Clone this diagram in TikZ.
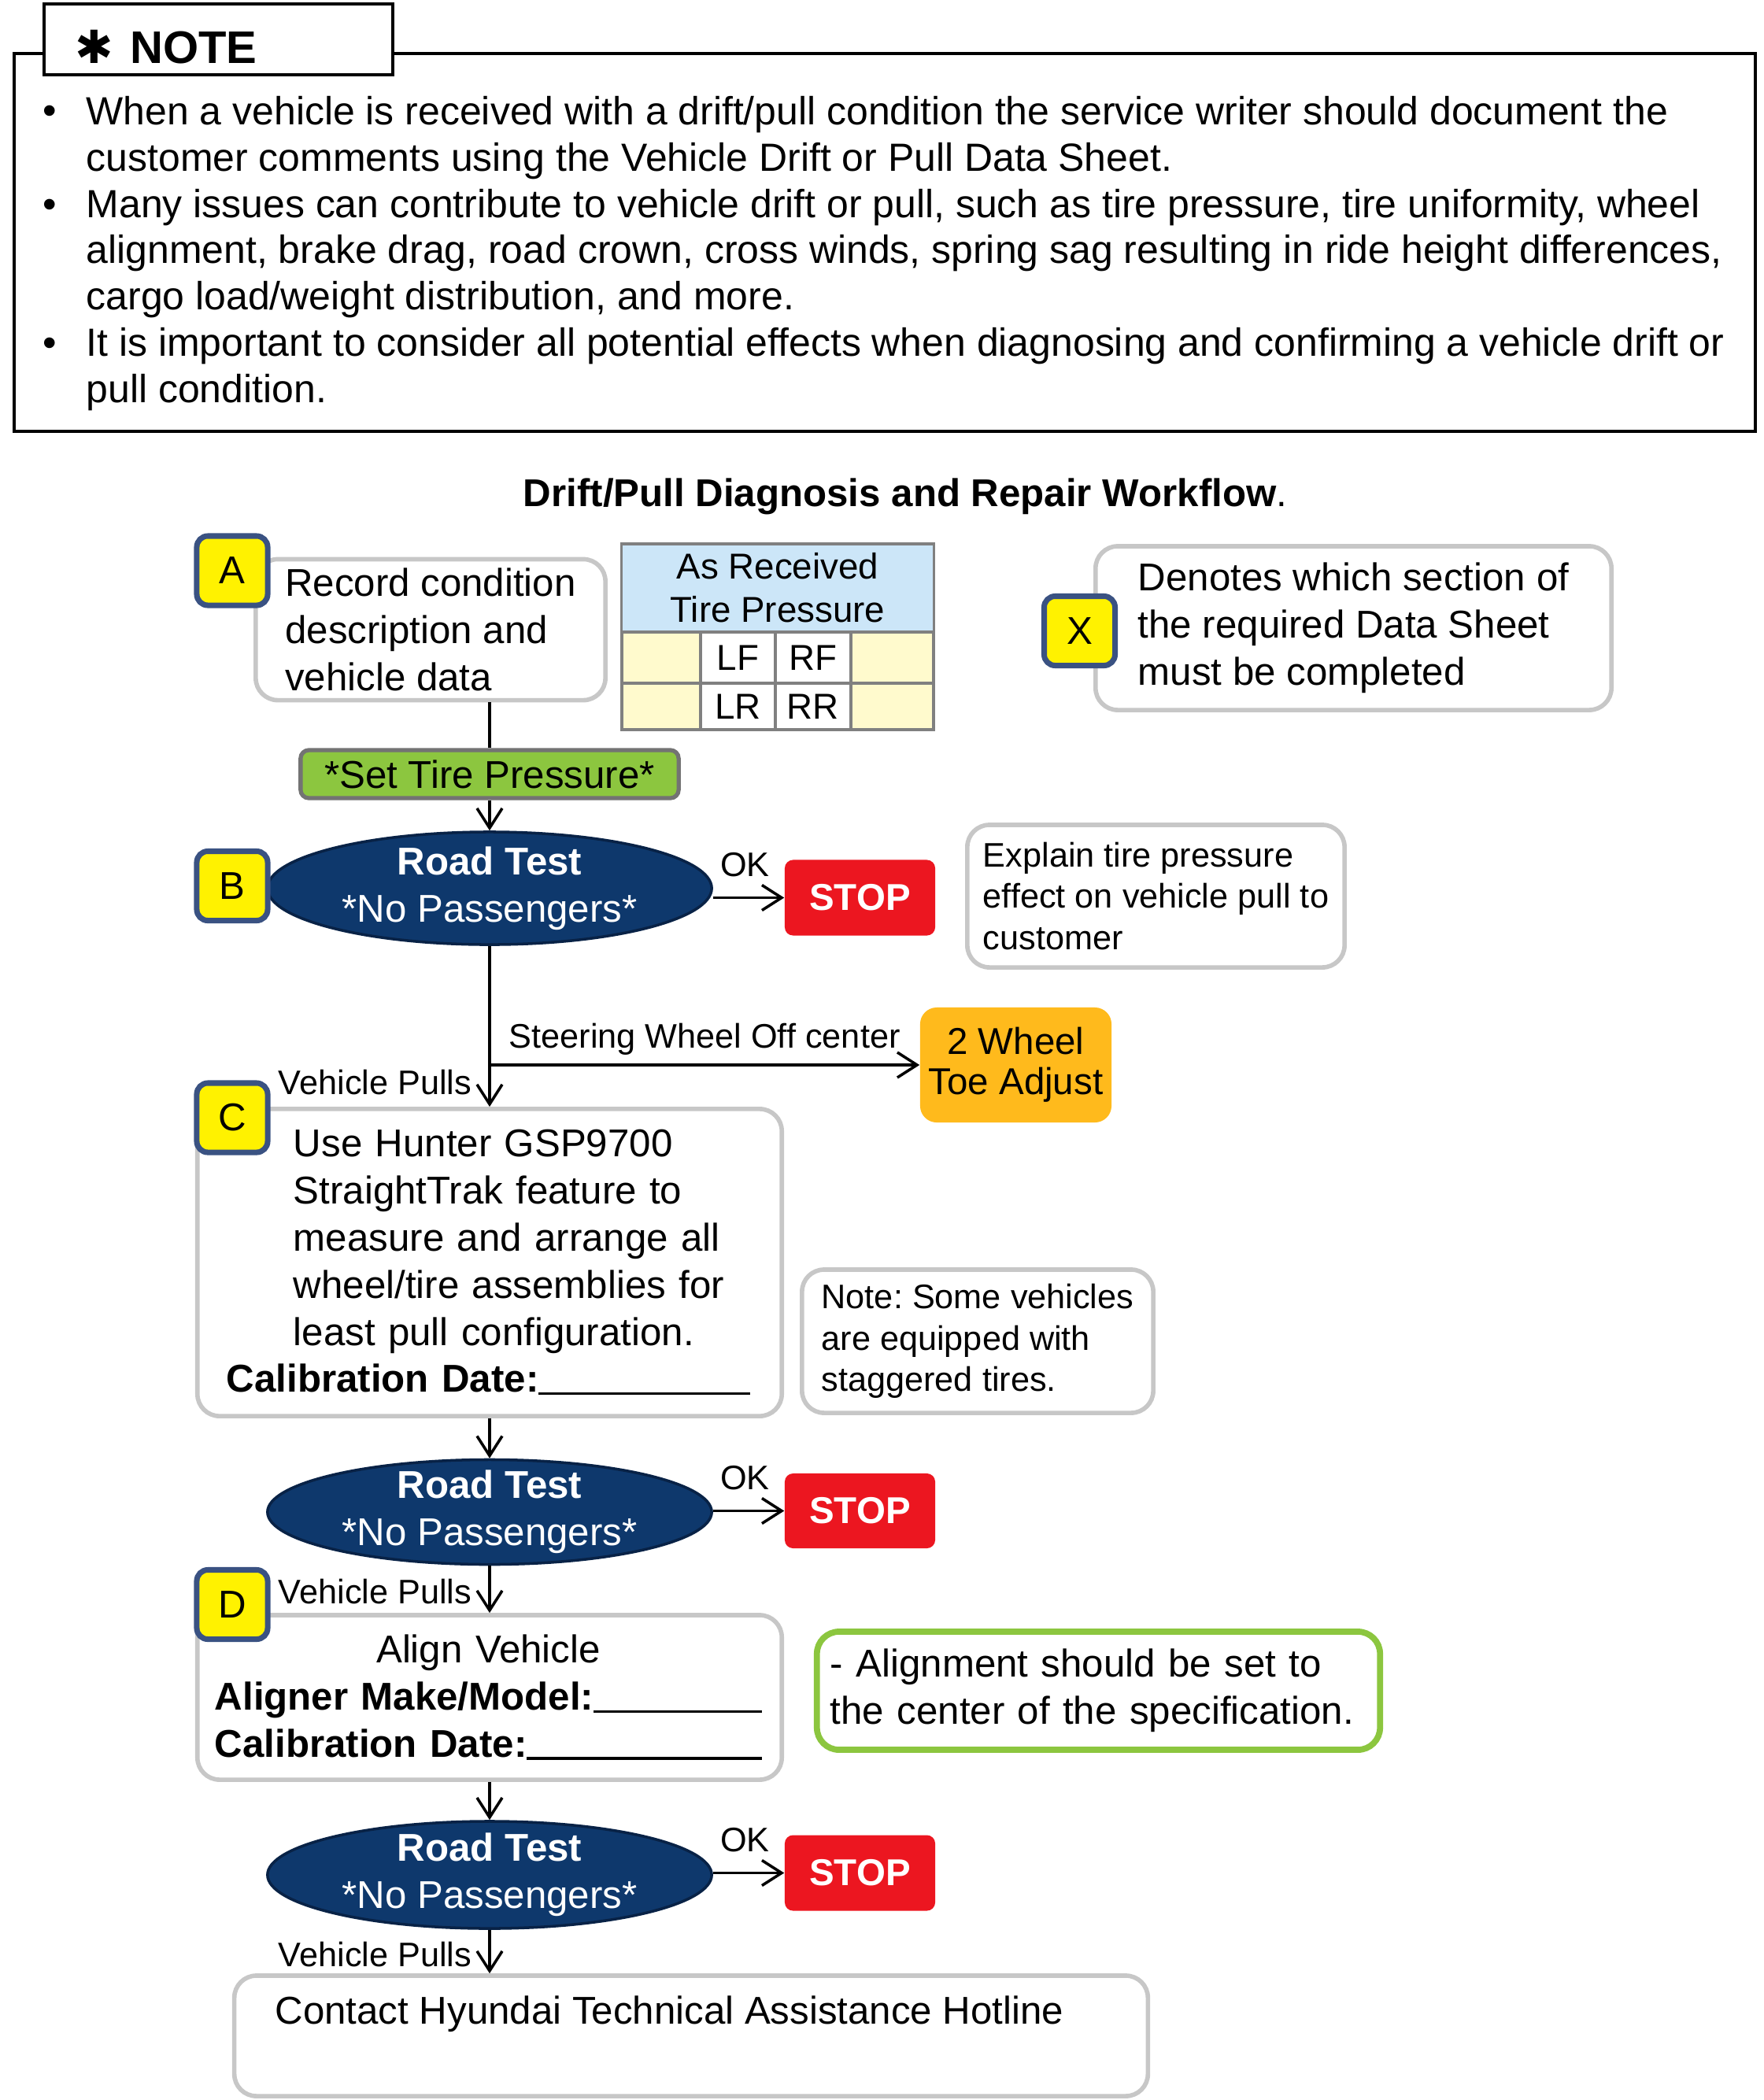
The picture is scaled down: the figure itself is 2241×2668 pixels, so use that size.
\documentclass[tikz,border=0pt]{standalone}
\usepackage{fontspec}
\setmainfont{Liberation Sans}
\newfontfamily\symfont{DejaVu Sans}
\usetikzlibrary{positioning, arrows.meta, calc, shapes.geometric}

\definecolor{tagblue}{RGB}{58,82,130}
\definecolor{navy}{RGB}{14,56,108}
\definecolor{navyline}{RGB}{8,34,70}
\definecolor{stopred}{RGB}{236,22,32}
\definecolor{toeorange}{RGB}{255,186,28}
\definecolor{setgreen}{RGB}{140,198,63}
\definecolor{headblue}{RGB}{204,230,248}
\definecolor{cellyellow}{RGB}{255,250,205}
\definecolor{tablegray}{RGB}{128,128,128}

\newcommand{\bigtxt}{\fontsize{14}{17}\selectfont}
\newcommand{\smalltxt}{\fontsize{12.3}{15}\selectfont}
\newcommand{\fieldline}[2]{\makebox[#1][l]{\textbf{#2}\leaders\hrule height 0pt depth 1pt\hfill}}
\frenchspacing

\begin{document}
\begin{tikzpicture}[x=0.01cm, y=-0.01cm,
    box/.style={draw=black!22, line width=1.6pt, rounded corners=8pt, fill=white},
    tag/.style={draw=tagblue, fill=yellow, line width=2pt, rounded corners=4pt,
      minimum width=0.9cm, minimum height=0.88cm, inner sep=0pt, font=\bigtxt},
    roadtest/.style={ellipse, draw=navyline, line width=1pt, fill=navy,
      minimum width=5.64cm, inner sep=0pt},
    rtlabel/.style={text=white, font=\bigtxt, align=center, inner sep=0pt},
    stopbox/.style={fill=stopred, rounded corners=3pt, text=white,
      font=\fontsize{13.5}{16}\selectfont\bfseries, minimum width=1.91cm,
      minimum height=0.96cm, inner sep=0pt},
    cell/.style={draw=tablegray, line width=0.9pt, inner sep=0pt,
      font=\fontsize{13}{15.6}\selectfont},
    notetext/.style={anchor=west, align=left, inner sep=0pt,
      font=\fontsize{14.2}{16.7}\selectfont},
    arrow/.style={-{Straight Barb[length=2.5mm, width=3.2mm]}, line width=1pt},
    link/.style={line width=1pt},
    lbl/.style={font=\smalltxt, inner sep=1pt}
  ]
  \useasboundingbox (0,0) rectangle (2241,2668);

  % Note panel
  \node[draw, line width=1.2pt, minimum width=22.1cm, minimum height=4.8cm, inner sep=0pt] (notepanel) at (1124,308) {};
  \node[draw, fill=white, line width=1.2pt, minimum width=4.43cm, minimum height=0.9cm, inner sep=0pt] (notetab) at (277.5,50) {};
  \node[anchor=west, inner sep=0pt, font=\fontsize{16.5}{19}\selectfont\bfseries] (notehead) at (95,60) {{\symfont ✱}\hspace{6pt}NOTE};

  \foreach \y/\n in {146/1, 265/2, 441/3}
    \node[inner sep=0pt, font=\fontsize{14.2}{16.7}\selectfont] (dot\n) at (63,\y) {\textbullet};
  \node[notetext] (note1) at (109,175) {When a vehicle is received with a drift/pull condition the service writer should document the\\customer comments using the Vehicle Drift or Pull Data Sheet.};
  \node[notetext] (note2) at (109,322) {Many issues can contribute to vehicle drift or pull, such as tire pressure, tire uniformity, wheel\\alignment, brake drag, road crown, cross winds, spring sag resulting in ride height differences,\\cargo load/weight distribution, and more.};
  \node[notetext] (note3) at (109,469) {It is important to consider all potential effects when diagnosing and confirming a vehicle drift or\\pull condition.};

  % Title
  \node[font=\bigtxt] (title) at (1150,631) {\textbf{Drift/Pull Diagnosis and Repair Workflow}.};

  % Section A
  \node[box, minimum width=4.44cm, minimum height=1.79cm, align=left, font=\bigtxt] (recA) at (547,800) {Record condition\\description and\\vehicle data};
  \node[tag] (tagA) at (295,725) {A};

  % Tire pressure table
  \node[cell, fill=headblue, minimum width=3.96cm, minimum height=1.12cm, align=center] (tphead) at (988,747) {As Received\\Tire Pressure};
  \foreach \r/\y/\h/\lt/\rt in {1/835.5/0.65cm/LF/RF, 2/897.5/0.59cm/LR/RR} {
    \node[cell, fill=cellyellow, minimum width=1.0cm, minimum height=\h] (tpa\r) at (840,\y) {};
    \node[cell, fill=white, minimum width=0.95cm, minimum height=\h] (tpb\r) at (937.5,\y) {\lt};
    \node[cell, fill=white, minimum width=0.96cm, minimum height=\h] (tpc\r) at (1033,\y) {\rt};
    \node[cell, fill=cellyellow, minimum width=1.05cm, minimum height=\h] (tpd\r) at (1133.5,\y) {};
  }

  % Legend
  \node[box, minimum width=6.55cm, minimum height=2.08cm, align=left, font=\bigtxt] (legend) at (1719.5,798) {Denotes which section of\\the required Data Sheet\\must be completed};
  \node[tag] (tagX) at (1371.5,801.5) {X};

  % Section B
  \node[draw=black!55, fill=setgreen, line width=1.5pt, rounded corners=3pt, minimum width=4.8cm, minimum height=0.61cm, inner sep=0pt, font=\bigtxt] (settire) at (622,983.5) {*Set Tire Pressure*};
  \node[roadtest, minimum height=1.43cm, label={[rtlabel]center:{\textbf{Road Test}\\*No Passengers*}}] (rtB) at (622,1128.5) {};
  \node[tag] (tagB) at (295,1125.5) {B};
  \node[stopbox] (stopB) at (1092.5,1140.5) {STOP};
  \node[box, minimum width=4.79cm, minimum height=1.81cm, align=left, font=\smalltxt] (explain) at (1468.5,1138.5) {Explain tire pressure\\effect on vehicle pull to\\customer};
  \node[fill=toeorange, rounded corners=6pt, minimum width=2.43cm, minimum height=1.46cm, inner sep=0pt, align=center, font=\fontsize{13.5}{14.5}\selectfont] (toe) at (1290.5,1353) {2 Wheel\\Toe Adjust};
  \coordinate (branch) at (622,1353);

  % Section C
  \node[box, minimum width=7.42cm, minimum height=3.9cm, text width=6.68cm, inner xsep=0.37cm, align=left, font=\bigtxt] (cbox) at (622,1604) {\hspace*{0.85cm}Use Hunter GSP9700\\\hspace*{0.85cm}StraightTrak feature to\\\hspace*{0.85cm}measure and arrange all\\\hspace*{0.85cm}wheel/tire assemblies for\\\hspace*{0.85cm}least pull configuration.\\\fieldline{6.65cm}{Calibration Date:}};
  \node[tag] (tagC) at (295,1420) {C};
  \node[box, minimum width=4.46cm, minimum height=1.82cm, align=left, font=\smalltxt] (stagger) at (1242,1704) {Note: Some vehicles\\are equipped with\\staggered tires.};
  \node[roadtest, minimum height=1.33cm, label={[rtlabel]center:{\textbf{Road Test}\\*No Passengers*}}] (rtC) at (622,1921) {};
  \node[stopbox, minimum height=0.95cm] (stopC) at (1092.5,1919.5) {STOP};

  % Section D
  \node[box, minimum width=7.42cm, minimum height=2.09cm, text width=6.98cm, inner xsep=0.22cm, align=left, font=\bigtxt] (dbox) at (622,2156.5) {\makebox[6.95cm]{Align Vehicle}\\\fieldline{6.95cm}{Aligner Make/Model:}\\\fieldline{6.95cm}{Calibration Date:}};
  \node[tag] (tagD) at (295,2038.5) {D};
  \node[box, draw=setgreen, line width=2.2pt, minimum width=7.15cm, minimum height=1.5cm, text width=6.81cm, inner xsep=0.17cm, align=left, font=\bigtxt] (alignnote) at (1395.5,2148) {- Alignment should be set to\\the center of the specification.};
  \node[roadtest, minimum height=1.36cm, label={[rtlabel]center:{\textbf{Road Test}\\*No Passengers*}}] (rtD) at (622,2382) {};
  \node[stopbox] (stopD) at (1092.5,2379.5) {STOP};

  % Hotline
  \node[box, minimum width=11.6cm, minimum height=1.53cm, inner sep=0pt] (contact) at (878,2586.5) {};
  \node[anchor=west, inner sep=0pt, font=\bigtxt] (contacttext) at ([xshift=0.54cm, yshift=-0.52cm]contact.north west) {Contact Hyundai Technical Assistance Hotline};

  % Connections
  \draw[link] (settire.north |- recA.south) -- (settire.north);
  \draw[arrow] (settire) -- (rtB);
  \draw[arrow] (rtB.east |- stopB) -- node[lbl, above=6pt, pos=0.45] {OK} (stopB);
  \draw[arrow] (rtB) -- node[lbl, left=5pt, pos=0.85] {Vehicle Pulls} (cbox);
  \draw[arrow] (branch) -- node[lbl, above=2pt] {Steering Wheel Off center} (toe);
  \draw[arrow] (cbox) -- (rtC);
  \draw[arrow] (rtC.east |- stopC) -- node[lbl, above=6pt, pos=0.45] {OK} (stopC);
  \draw[arrow] (rtC) -- node[lbl, left=5pt, pos=0.55] {Vehicle Pulls} (dbox);
  \draw[arrow] (dbox) -- (rtD);
  \draw[arrow] (rtD.east |- stopD) -- node[lbl, above=6pt, pos=0.45] {OK} (stopD);
  \draw[arrow] (rtD) -- node[lbl, left=5pt, pos=0.57] {Vehicle Pulls} (rtD.south |- contact.north);
\end{tikzpicture}
\end{document}
